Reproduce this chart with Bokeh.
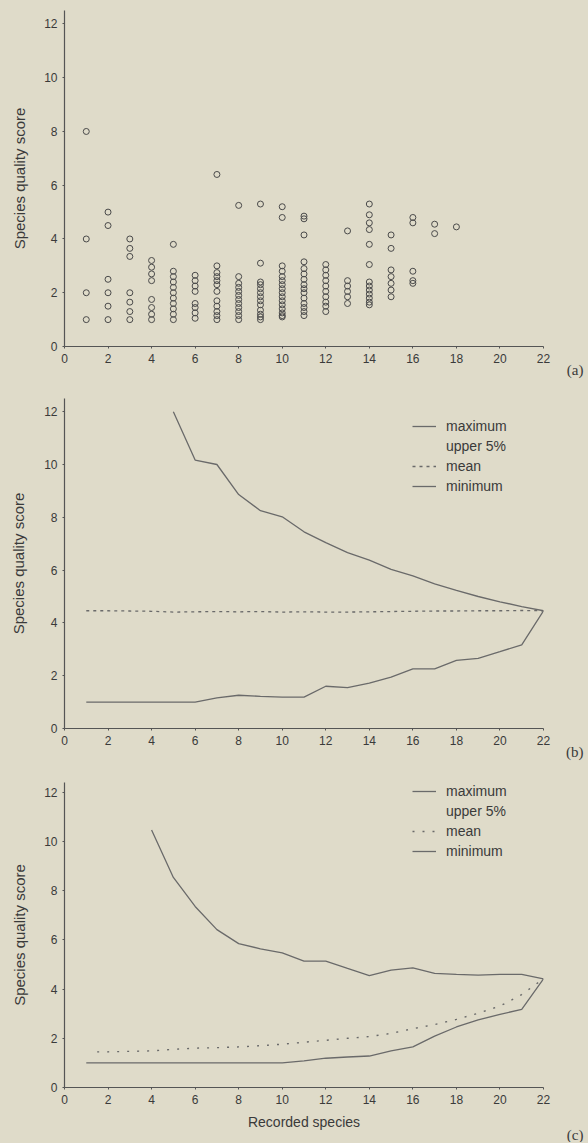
from bokeh.plotting import figure
from bokeh.layouts import column
from bokeh.models import Range1d, Legend, LegendItem, Title, FixedTicker
from bokeh.embed import file_html
from bokeh.resources import INLINE

# ---------------- data ----------------
scatter_counts = list(range(1, 19))
scatter_scores = [
    [8.0, 4.0, 2.0, 1.0],
    [5.0, 4.5, 2.5, 2.0, 1.5, 1.0],
    [4.0, 3.65, 3.35, 2.0, 1.65, 1.3, 1.0],
    [3.2, 2.95, 2.7, 2.45, 1.75, 1.45, 1.2, 1.0],
    [3.8, 2.8, 2.6, 2.4, 2.2, 2.0, 1.8, 1.6, 1.4, 1.2, 1.0],
    [2.65, 2.45, 2.25, 2.05, 1.6, 1.45, 1.25, 1.05],
    [6.4, 3.0, 2.75, 2.6, 2.45, 2.3, 2.05, 1.7, 1.5, 1.3, 1.15, 1.0],
    [5.25, 2.6, 2.35, 2.2, 2.05, 1.9, 1.75, 1.6, 1.45, 1.3, 1.15, 1.0],
    [5.3, 3.1, 2.4, 2.3, 2.15, 2.0, 1.85, 1.7, 1.55, 1.35, 1.2, 1.1, 1.0],
    [5.2, 4.8, 3.0, 2.8, 2.6, 2.45, 2.3, 2.15, 2.0, 1.85, 1.7, 1.55, 1.4, 1.25, 1.15, 1.1],
    [4.85, 4.75, 4.15, 3.15, 2.9, 2.7, 2.5, 2.3, 2.15, 2.0, 1.8, 1.6, 1.45, 1.3, 1.15],
    [3.05, 2.85, 2.65, 2.45, 2.25, 2.05, 1.85, 1.65, 1.5, 1.3],
    [4.3, 2.45, 2.25, 2.05, 1.85, 1.6],
    [5.3, 4.9, 4.6, 4.35, 3.8, 3.05, 2.4, 2.25, 2.1, 1.95, 1.8, 1.65, 1.55],
    [4.15, 3.65, 2.85, 2.6, 2.35, 2.1, 1.85],
    [4.8, 4.6, 2.8, 2.45, 2.35],
    [4.55, 4.2],
    [4.45],
]

b_x = list(range(1, 23))
b_max_x = list(range(5, 23))
b_max = [12.0, 10.17, 10.0, 8.86, 8.25, 8.02, 7.45, 7.04, 6.66, 6.38, 6.03,
         5.78, 5.48, 5.23, 5.0, 4.8, 4.62, 4.46]
b_mean = [4.46, 4.46, 4.45, 4.44, 4.41, 4.42, 4.43, 4.42, 4.43, 4.41, 4.42,
          4.41, 4.41, 4.42, 4.43, 4.44, 4.45, 4.45, 4.46, 4.46, 4.47, 4.46]
b_min = [1.0, 1.0, 1.0, 1.0, 1.0, 1.0, 1.16, 1.26, 1.22, 1.19, 1.19, 1.6,
         1.55, 1.72, 1.95, 2.26, 2.26, 2.58, 2.66, 2.91, 3.17, 4.46]

c_x = list(range(1, 23))
c_max_x = list(range(4, 23))
c_max = [10.47, 8.54, 7.36, 6.42, 5.85, 5.64, 5.47, 5.14, 5.14, 4.84, 4.55,
         4.77, 4.86, 4.64, 4.6, 4.57, 4.6, 4.6, 4.42]
c_mean_x = [1.5] + list(range(2, 23))
c_mean = [1.45, 1.45, 1.47, 1.49, 1.55, 1.6, 1.62, 1.65, 1.7, 1.76, 1.84,
          1.92, 2.0, 2.07, 2.2, 2.39, 2.56, 2.77, 3.02, 3.31, 3.78, 4.42]
c_min = [1.0, 1.0, 1.0, 1.0, 1.0, 1.0, 1.0, 1.0, 1.0, 1.0, 1.08, 1.19,
         1.24, 1.28, 1.49, 1.65, 2.09, 2.46, 2.75, 2.97, 3.18, 4.42]

x_ticks = list(range(0, 23, 2))
y_ticks = list(range(0, 13, 2))
legend_labels = ["maximum", "upper 5%", "mean", "minimum"]
panel_tags = ["(a)", "(b)", "(c)"]

# ---------------- style ----------------
BG = "#dfdbc9"
INK = "#3a3a3a"
LINE = "#6a6a6a"
FONT = "Liberation Sans"
W = 588


def make_fig(height, left, frame_w, top, bottom, ytop, ylabel_standoff, xlabel=None):
    p = figure(width=W, height=height, output_backend="svg", toolbar_location=None,
               x_range=Range1d(0, 22), y_range=Range1d(0, ytop),
               min_border_left=left, min_border_right=W - left - frame_w,
               min_border_top=top, min_border_bottom=bottom)
    p.background_fill_color = BG
    p.border_fill_color = BG
    p.outline_line_color = None
    p.grid.visible = False
    for ax in (p.xaxis[0], p.yaxis[0]):
        ax.axis_line_color = "#555555"
        ax.axis_line_width = 1.2
        ax.major_tick_line_color = "#555555"
        ax.major_tick_out = 2
        ax.major_tick_in = 0
        ax.minor_tick_line_color = None
        ax.major_label_text_font = FONT
        ax.major_label_text_font_size = "12px"
        ax.major_label_text_color = INK
        ax.axis_label_text_font = FONT
        ax.axis_label_text_font_style = "normal"
        ax.axis_label_text_font_size = "15px"
        ax.axis_label_text_color = INK
    p.xaxis[0].ticker = FixedTicker(ticks=x_ticks)
    p.yaxis[0].ticker = FixedTicker(ticks=y_ticks)
    p.xaxis[0].major_label_standoff = 5
    p.yaxis[0].major_label_standoff = 5
    p.yaxis[0].axis_label = "Species quality score"
    p.yaxis[0].axis_label_standoff = ylabel_standoff
    if xlabel:
        p.xaxis[0].axis_label = xlabel
        p.xaxis[0].axis_label_text_font_size = "14px"
        p.xaxis[0].axis_label_standoff = 7
    return p


def add_tag(p, text, offset, standoff):
    p.add_layout(Title(text=text, align="right", offset=offset, standoff=standoff,
                       vertical_align="middle", text_font="Liberation Serif",
                       text_font_size="15px", text_font_style="normal",
                       text_color=INK), "below")


def add_legend(p, renderers, lx, ly):
    items = [LegendItem(label=lab, renderers=[r]) for lab, r in zip(legend_labels, renderers)]
    lg = Legend(items=items, location=(lx, ly), glyph_width=24, glyph_height=20,
                label_height=20, label_standoff=10, spacing=0, padding=0, margin=0,
                label_text_font=FONT, label_text_font_size="14px",
                label_text_color=INK, background_fill_alpha=0,
                border_line_alpha=0)
    p.add_layout(lg)


# ---------------- panel (a) ----------------
pa = make_fig(388, 58, 487, 10, 42, 12.5, 13)
sx = [c for c, ys in zip(scatter_counts, scatter_scores) for _ in ys]
sy = [v for ys in scatter_scores for v in ys]
pa.scatter(sx, sy, marker="circle", size=6, fill_color=None,
           line_color="#4a4a4a", line_width=1)
add_tag(pa, panel_tags[0], -40, -10)

# ---------------- panel (b) ----------------
pb = make_fig(384, 61, 482, 10, 44, 12.5, 14)
rb_max = pb.line(b_max_x, b_max, line_color=LINE, line_width=1.3)
rb_up = pb.line([], [], line_alpha=0)
rb_mean = pb.line(b_x, b_mean, line_color=LINE, line_width=1.3, line_dash="3 4")
rb_min = pb.line(b_x, b_min, line_color=LINE, line_width=1.3)
add_legend(pb, [rb_max, rb_up, rb_mean, rb_min], 348, 232)
add_tag(pb, panel_tags[1], -40, -10)

# ---------------- panel (c) ----------------
pc = make_fig(370, 64, 481, 10, 55, 12.4, 13, xlabel="Recorded species")
rc_max = pc.line(c_max_x, c_max, line_color=LINE, line_width=1.3)
rc_up = pc.line([], [], line_alpha=0)
rc_mean = pc.line(c_mean_x, c_mean, line_color=LINE, line_width=1.4, line_dash="2 8")
rc_min = pc.line(c_x, c_min, line_color=LINE, line_width=1.3)
add_legend(pc, [rc_max, rc_up, rc_mean, rc_min], 348, 226)
add_tag(pc, panel_tags[2], -40, -14)

layout = column(pa, pb, pc, spacing=0)
html = file_html(layout, INLINE)
html = html.replace("</head>", "<style>html,body{margin:0;padding:0;background:#dfdbc9;}</style></head>", 1)
open("out.html", "w").write(html)
